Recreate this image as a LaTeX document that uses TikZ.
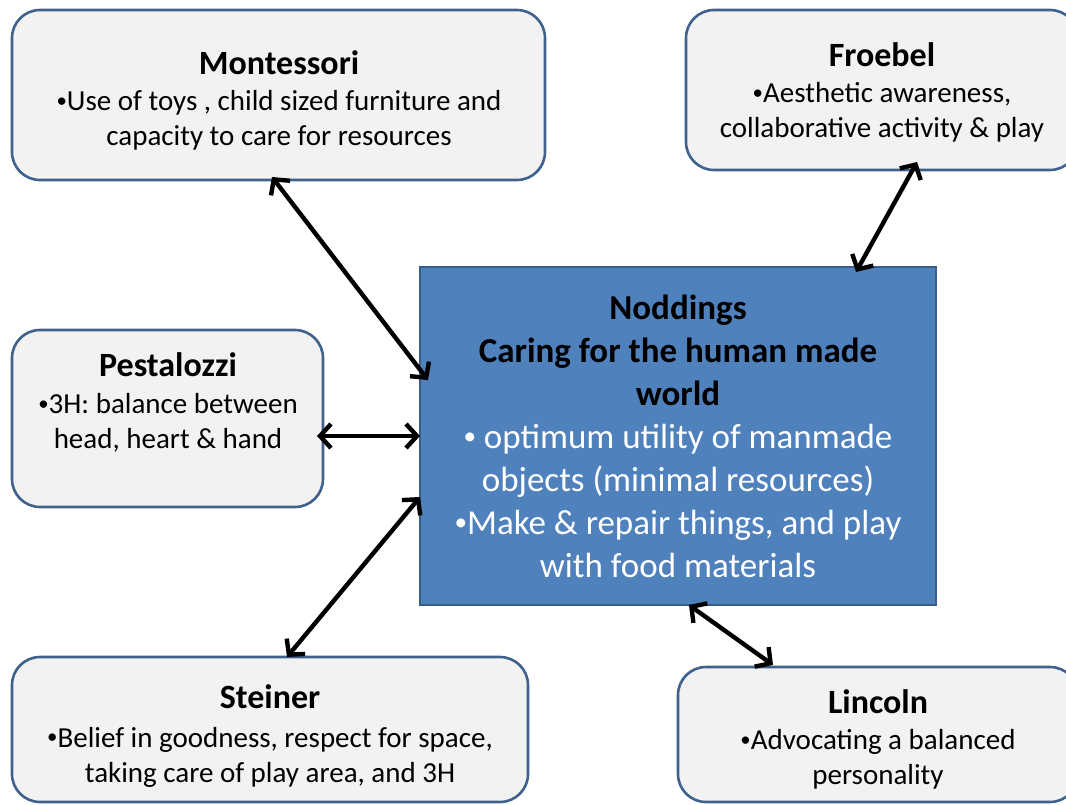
\documentclass[tikz,border=0pt]{standalone}
\usepackage{fontspec}
\setmainfont{Carlito}
\usetikzlibrary{arrows.meta,calc}
\definecolor{boxfill}{HTML}{F2F2F2}
\definecolor{boxline}{HTML}{3E618D}
\definecolor{corefill}{HTML}{4F81BD}
\definecolor{coreline}{HTML}{385D8A}
% a smaller bullet, as in the slide font
\newcommand{\smalldot}{\raisebox{0.11em}{\scalebox{0.72}{•}}}
\begin{document}
\begin{tikzpicture}[x=1pt,y=-1pt,
  thinker/.style={draw=boxline, line width=2.6pt, fill=boxfill, rounded corners=28pt,
    rectangle, inner sep=0pt, outer sep=0pt},
  core/.style={draw=coreline, line width=2.6pt, fill=corefill, rectangle,
    inner sep=0pt, outer sep=0pt},
  headtext/.style={font=\fontsize{34}{40}\selectfont\bfseries, inner sep=0pt},
  ideatext/.style={font=\fontsize{29}{35}\selectfont, align=center, inner sep=0pt},
  link/.style={line width=4.4pt, black,
    {Straight Barb[length=11pt,width=24pt]}-{Straight Barb[length=11pt,width=24pt]}}
]
\useasboundingbox (0,0) rectangle (1066,805);
\fill[white] (0,0) rectangle (1066,805);
\clip (0,0) rectangle (1066,805);

% outer boxes
\node[thinker, minimum width=533pt, minimum height=170pt] (mont) at (278.5,95) {};
\node[thinker, minimum width=392pt, minimum height=160pt] (froe) at (882,90) {};
\node[thinker, minimum width=311pt, minimum height=177pt] (pest) at (167.5,418.5) {};
\node[thinker, minimum width=516pt, minimum height=145pt] (stei) at (270,729.5) {};
\node[thinker, minimum width=400pt, minimum height=135pt] (linc) at (878,734.5) {};

% central box
\node[core, minimum width=516pt, minimum height=338pt] (nod) at (678,436) {};

% texts
\node[headtext] (montT) at (279,63) {Montessori};
\node[ideatext] (montB) at (279,120.5) {\smalldot Use of toys , child sized furniture and\\capacity to care for resources};

\node[headtext] (froeT) at (882,55) {Froebel};
\node[ideatext] (froeB) at (882,112.5) {\smalldot Aesthetic awareness,\\collaborative activity \& play};

\node[headtext] (pestT) at (168,365) {Pestalozzi};
\node[ideatext] (pestB) at (168,422.5) {\smalldot 3H: balance between\\head, heart \& hand};

\node[headtext] (steiT) at (270,697) {Steiner};
\node[ideatext] (steiB) at (270,757) {\smalldot Belief in goodness, respect for space,\\taking care of play area, and 3H};

\node[headtext] (lincT) at (878,702) {Lincoln};
\node[ideatext] (lincB) at (878,759) {\smalldot Advocating a balanced\\personality};

\node[font=\fontsize{35}{43}\selectfont, align=center, inner sep=0pt] (nodT) at (678,436.5)
  {\textbf{Noddings}\\\textbf{Caring for the human made}\\\textbf{world}\\
   \textcolor{white}{\smalldot\ optimum utility of manmade}\\
   \textcolor{white}{objects (minimal resources)}\\
   \textcolor{white}{\smalldot Make \& repair things, and play}\\
   \textcolor{white}{with food materials}};

% connectors
\draw[link] ($(mont.south)+(-6.5,-3)$) -- ($(nod.west)+(8,-56)$);
\draw[link] ($(froe.south)+(35,-8)$) -- ($(nod.north)+(178,5)$);
\draw[link] ($(pest.east)+(-6,17.5)$) -- (nod.west);
\draw[link] ($(nod.west)+(0,61)$) -- ($(stei.north)+(17,0)$);
\draw[link] ($(nod.south)+(11,0)$) -- ($(linc.north)+(-105,-2)$);
\end{tikzpicture}
\end{document}
